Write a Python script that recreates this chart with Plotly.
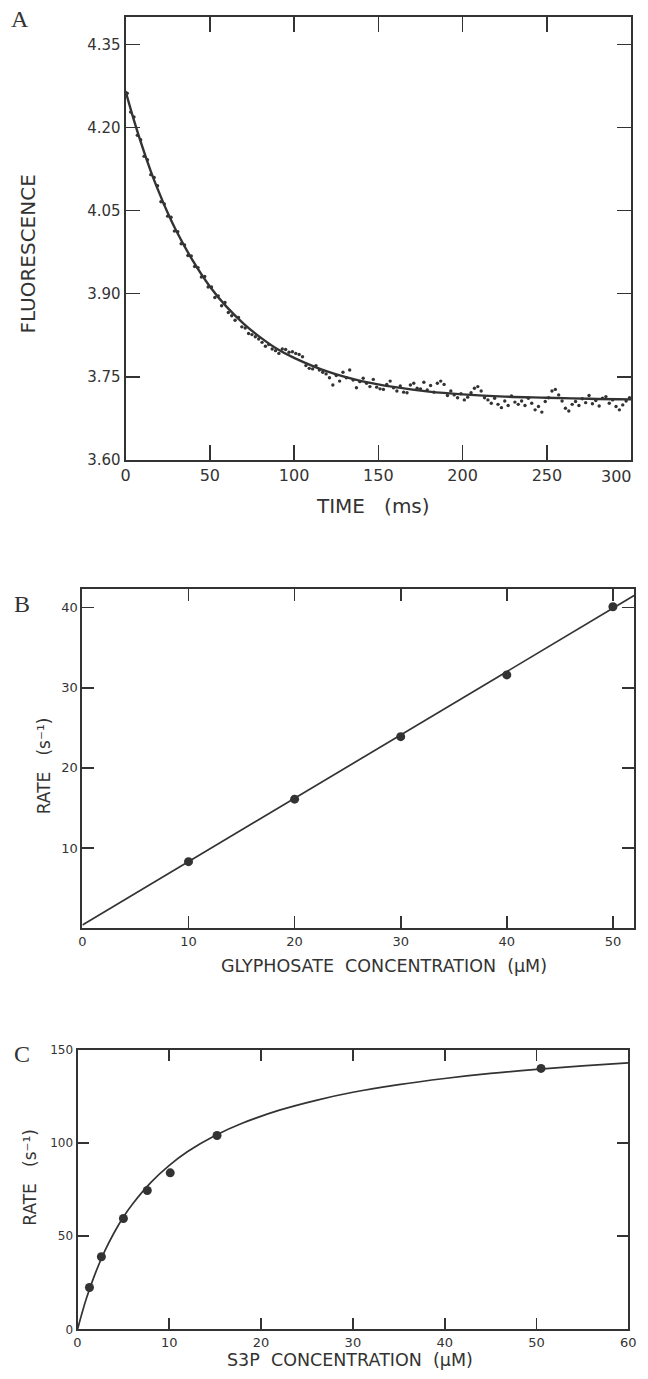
import plotly.graph_objects as go

# ---------------- Panel A data ----------------
a_time = list(range(1, 300, 2))
a_fluor = [4.262, 4.228, 4.219, 4.186, 4.178, 4.148, 4.142, 4.115, 4.110, 4.095,
           4.066, 4.062, 4.040, 4.038, 4.013, 4.012, 3.990, 3.988, 3.969, 3.968,
           3.949, 3.947, 3.930, 3.931, 3.912, 3.912, 3.893, 3.896, 3.878, 3.884,
           3.866, 3.860, 3.852, 3.857, 3.840, 3.838, 3.828, 3.826, 3.822, 3.818,
           3.812, 3.805, 3.808, 3.800, 3.797, 3.792, 3.800, 3.799, 3.794, 3.795,
           3.792, 3.790, 3.786, 3.770, 3.765, 3.764, 3.770, 3.762, 3.758, 3.755,
           3.748, 3.735, 3.752, 3.742, 3.758, 3.748, 3.762, 3.744, 3.730, 3.741,
           3.747, 3.738, 3.732, 3.745, 3.731, 3.728, 3.727, 3.736, 3.742, 3.730,
           3.724, 3.733, 3.722, 3.721, 3.735, 3.738, 3.729, 3.728, 3.740, 3.726,
           3.734, 3.722, 3.738, 3.742, 3.736, 3.716, 3.724, 3.717, 3.712, 3.719,
           3.708, 3.713, 3.721, 3.729, 3.732, 3.724, 3.712, 3.708, 3.702, 3.711,
           3.700, 3.694, 3.706, 3.698, 3.715, 3.704, 3.700, 3.706, 3.698, 3.711,
           3.702, 3.690, 3.696, 3.686, 3.705, 3.712, 3.724, 3.727, 3.717, 3.706,
           3.693, 3.688, 3.700, 3.705, 3.698, 3.710, 3.703, 3.716, 3.701, 3.707,
           3.697, 3.711, 3.714, 3.702, 3.708, 3.696, 3.690, 3.699, 3.706, 3.712]
a_fit_time = [0, 5, 10, 15, 20, 25, 30, 40, 50, 60, 70, 80, 90, 100, 120, 140,
              160, 180, 200, 225, 250, 275, 300]
a_fit_fluor = [4.266, 4.213, 4.165, 4.121, 4.082, 4.046, 4.014, 3.959, 3.913,
               3.876, 3.846, 3.821, 3.800, 3.784, 3.759, 3.742, 3.731, 3.723,
               3.718, 3.714, 3.712, 3.710, 3.709]
a_xticks = [0, 50, 100, 150, 200, 250, 300]
a_yticks = [3.60, 3.75, 3.90, 4.05, 4.20, 4.35]

# ---------------- Panel B data ----------------
b_conc = [10, 20, 30, 40, 50]
b_rate = [8.3, 16.1, 23.9, 31.6, 40.1]
b_fit_conc = [0, 52]
b_fit_rate = [0.4, 41.5]
b_xticks = [0, 10, 20, 30, 40, 50]
b_yticks = [10, 20, 30, 40]

# ---------------- Panel C data ----------------
c_conc = [1.3, 2.6, 5.0, 7.6, 10.1, 15.2, 50.5]
c_rate = [22.5, 39.0, 59.5, 74.5, 84.0, 104.0, 140.0]
c_fit_conc = [0, 0.5, 1, 2, 3, 4, 5, 6, 8, 10, 12, 15, 18, 22, 26, 30, 35, 40,
              45, 50, 55, 60]
c_fit_rate = [0, 9.0, 17.1, 30.9, 42.4, 52.0, 60.3, 67.3, 78.9, 88.0, 95.4,
              104.0, 110.7, 117.6, 122.9, 127.2, 131.3, 134.6, 137.3, 139.5,
              141.4, 143.0]
c_xticks = [0, 10, 20, 30, 40, 50, 60]
c_yticks = [0, 50, 100, 150]

W, H = 648, 1379
INK = "#333333"
FONT = "DejaVu Sans"


def px(x):
    return x / W


def py(y):
    return 1 - y / H


fig = go.Figure()

# Panel A
fig.add_trace(go.Scatter(x=a_time, y=a_fluor, mode="markers",
                         marker=dict(size=3.4, color=INK), xaxis="x", yaxis="y",
                         showlegend=False))
fig.add_trace(go.Scatter(x=a_fit_time, y=a_fit_fluor, mode="lines",
                         line=dict(color=INK, width=2.4, shape="spline"),
                         xaxis="x", yaxis="y", showlegend=False))
# Panel B
fig.add_trace(go.Scatter(x=b_fit_conc, y=b_fit_rate, mode="lines",
                         line=dict(color=INK, width=1.7), xaxis="x2", yaxis="y2",
                         showlegend=False))
fig.add_trace(go.Scatter(x=b_conc, y=b_rate, mode="markers",
                         marker=dict(size=9, color=INK), xaxis="x2", yaxis="y2",
                         showlegend=False))
# Panel C
fig.add_trace(go.Scatter(x=c_fit_conc, y=c_fit_rate, mode="lines",
                         line=dict(color=INK, width=1.7, shape="spline"),
                         xaxis="x3", yaxis="y3", showlegend=False))
fig.add_trace(go.Scatter(x=c_conc, y=c_rate, mode="markers",
                         marker=dict(size=9, color=INK), xaxis="x3", yaxis="y3",
                         showlegend=False))

common = dict(showline=True, linecolor=INK, linewidth=2, mirror="ticks",
              ticks="inside", tickcolor=INK, tickwidth=1.7, showgrid=False,
              zeroline=False)

a_xtext = [str(v) for v in a_xticks]
a_xtext[-1] = ""   # "300" is drawn right-aligned below (it sits at the page edge)

fig.update_layout(
    width=W, height=H, margin=dict(l=0, r=0, t=0, b=0),
    paper_bgcolor="white", plot_bgcolor="white",
    xaxis=dict(**common, domain=[px(123), px(639)], range=[0, 300],
               tickvals=a_xticks, ticktext=a_xtext, ticklen=15, anchor="y",
               tickfont=dict(family=FONT, size=16, color=INK)),
    yaxis=dict(**common, domain=[py(458), py(10)], range=[3.60, 4.40],
               tickvals=a_yticks, ticktext=[f"{v:.2f}" for v in a_yticks],
               ticklen=14, anchor="x",
               tickfont=dict(family=FONT, size=15, color=INK)),
    xaxis2=dict(**common, domain=[px(79), px(642)], range=[0, 52],
                tickvals=b_xticks, ticklen=12, anchor="y2",
                tickfont=dict(family=FONT, size=13, color=INK)),
    yaxis2=dict(**common, domain=[py(932), py(589)], range=[0, 42.3],
                tickvals=b_yticks, ticklen=12, anchor="x2",
                tickfont=dict(family=FONT, size=13, color=INK)),
    xaxis3=dict(**common, domain=[px(74), px(636)], range=[0, 60],
                tickvals=c_xticks, ticklen=11, anchor="y3",
                tickfont=dict(family=FONT, size=13, color=INK)),
    yaxis3=dict(**common, domain=[py(1338), py(1055)], range=[0, 150],
                tickvals=c_yticks, ticklen=11, anchor="x3",
                tickfont=dict(family=FONT, size=12, color=INK)),
)

ann = []


def label(text, x, y, size, angle=0, family=FONT, xanchor="center"):
    ann.append(dict(text=text, x=px(x), y=py(y), xref="paper", yref="paper",
                    showarrow=False, textangle=angle, xanchor=xanchor,
                    yanchor="middle", font=dict(family=family, size=size, color=INK)))


label("A", 15, 12, 24, family="Liberation Serif")
label("B", 17, 604, 24, family="Liberation Serif")
label("C", 17, 1059, 24, family="Liberation Serif")
label("TIME   (ms)", 376, 505, 20)
label("FLUORESCENCE", 24, 250, 20, angle=-90)
label("GLYPHOSATE  CONCENTRATION  (µM)", 387, 970, 17.5)
label("RATE   (s⁻¹)", 40, 768, 17, angle=-90)
label("S3P  CONCENTRATION  (µM)", 352, 1369, 17.5)
label("RATE   (s⁻¹)", 26, 1184, 17, angle=-90)
# right-most tick label of panel A, right-aligned to the page edge
ann.append(dict(text=str(a_xticks[-1]), x=px(642), xref="paper", y=py(475),
                yref="paper", showarrow=False, xanchor="right",
                yanchor="middle", font=dict(family=FONT, size=16, color=INK)))
fig.update_layout(annotations=ann)

fig.write_html("out.html",
               config={"displayModeBar": False, "staticPlot": True},
               post_script="document.body.style.margin='0px';"
                           "document.body.style.overflow='hidden';")
